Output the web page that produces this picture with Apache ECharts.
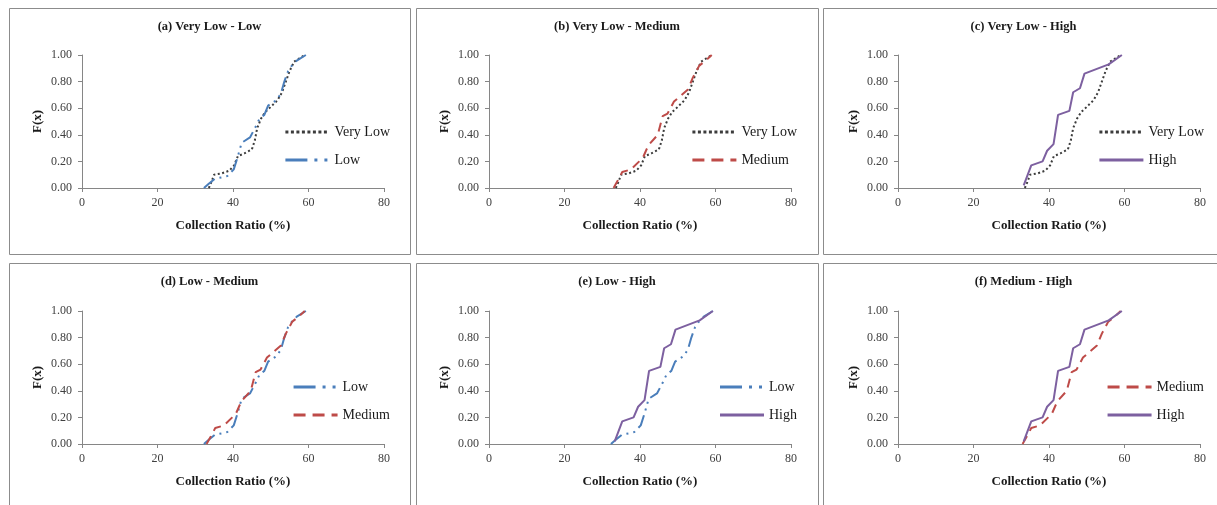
<!DOCTYPE html>
<html>
<head>
<meta charset="utf-8">
<script src="https://cdn.jsdelivr.net/npm/echarts@6/dist/echarts.min.js"></script>
<style>
  html, body { margin: 0; background: #fff; }
  #chart { width: 1217px; height: 505px; }
</style>
</head>
<body>
<div id="chart"></div>
<script>
const veryLow = [[33.6, 0.0], [34.2, 0.04], [35.0, 0.10], [37.0, 0.11], [39.0, 0.13], [40.3, 0.17], [41.3, 0.24],
  [43.0, 0.26], [45.0, 0.29], [45.8, 0.36], [46.4, 0.45], [47.4, 0.52], [48.5, 0.57], [50.0, 0.61], [51.8, 0.66],
  [53.0, 0.72], [54.0, 0.80], [55.0, 0.88], [56.2, 0.95], [59.0, 1.0]]
const low = [[32.3, 0.0], [33.5, 0.03], [35.2, 0.07], [37.0, 0.08], [38.5, 0.09], [40.2, 0.14], [41.2, 0.23],
  [42.3, 0.34], [44.5, 0.38], [46.0, 0.46], [47.0, 0.52], [48.3, 0.55], [49.3, 0.62], [51.5, 0.66], [52.7, 0.71],
  [53.6, 0.80], [54.6, 0.88], [55.6, 0.92], [57.0, 0.96], [59.3, 1.0]]
const medium = [[33.0, 0.0], [34.0, 0.05], [35.3, 0.12], [37.6, 0.14], [39.8, 0.20], [40.8, 0.23], [42.2, 0.32],
  [44.7, 0.40], [46.0, 0.54], [47.3, 0.56], [49.0, 0.65], [52.7, 0.74], [54.0, 0.83], [55.7, 0.92], [57.5, 0.96],
  [59.0, 1.0]]
const high = [[33.3, 0.02], [35.3, 0.17], [38.3, 0.20], [39.5, 0.28], [41.2, 0.33], [42.4, 0.55], [45.4, 0.58],
  [46.4, 0.72], [48.2, 0.75], [49.4, 0.86], [55.8, 0.93], [59.3, 1.0]]

const panelTitles = ['(a) Very Low - Low', '(b) Very Low - Medium', '(c) Very Low - High',
  '(d) Low - Medium', '(e) Low - High', '(f) Medium - High']
const panelPairs = [['Very Low', 'Low'], ['Very Low', 'Medium'], ['Very Low', 'High'],
  ['Low', 'Medium'], ['Low', 'High'], ['Medium', 'High']]
const xTicks = [0, 20, 40, 60, 80]
const yTicks = [0, 0.2, 0.4, 0.6, 0.8, 1.0]

const seriesData = { 'Very Low': veryLow, 'Low': low, 'Medium': medium, 'High': high }
const lineColor = { 'Very Low': '#3c3c3c', 'Low': '#4a7ebb', 'Medium': '#be4b48', 'High': '#7d60a0' }
const lineDash = { 'Very Low': [2, 2.5], 'Low': [14, 5, 2, 5, 2, 5], 'Medium': [9, 6], 'High': 'solid' }
const legendDash = { 'Very Low': [3, 2.5], 'Low': [22, 7, 3, 7, 3, 7], 'Medium': [12, 7], 'High': 'solid' }

// panel boxes and plot areas
const colLeft = [9, 416, 823]
const colRight = [410, 818, 1226]
const rowTop = [8, 263]
const rowBottom = [254, 512]
const plotLeft = [82, 489, 898]
const plotTop = [55, 311]
const plotW = 302
const plotH = 133

const serif = 'Liberation Serif'
const chart = echarts.init(document.getElementById('chart'))

let grid = [], xAxis = [], yAxis = [], series = [], legend = [], graphic = []
panelTitles.forEach((title, i) => {
  const c = i % 3
  const r = Math.floor(i / 3)
  graphic.push({
    type: 'rect',
    shape: { x: colLeft[c] + 0.5, y: rowTop[r] + 0.5, width: colRight[c] - colLeft[c], height: rowBottom[r] - rowTop[r] },
    style: { fill: 'none', stroke: '#8c8c8c', lineWidth: 1 },
    silent: true
  })
  graphic.push({
    type: 'text',
    x: (colLeft[c] + Math.min(colRight[c], 1224)) / 2,
    y: rowTop[r] + 19,
    style: { text: title, fontFamily: serif, fontWeight: 'bold', fontSize: 12.5, fill: '#1a1a1a', textAlign: 'center', textVerticalAlign: 'middle' }
  })
  grid.push({ left: plotLeft[c], top: plotTop[r], width: plotW, height: plotH })
  xAxis.push({
    type: 'value',
    gridIndex: i,
    min: xTicks[0],
    max: xTicks[xTicks.length - 1],
    interval: 20,
    name: 'Collection Ratio (%)',
    nameLocation: 'middle',
    nameGap: 31,
    nameTextStyle: { fontFamily: serif, fontWeight: 'bold', fontSize: 13, color: '#1a1a1a' },
    axisLine: { lineStyle: { color: '#868686', width: 1 } },
    axisTick: { show: true, length: 4, lineStyle: { color: '#868686' } },
    splitLine: { show: false },
    axisLabel: { margin: 9, fontFamily: serif, fontSize: 12, color: '#404040' }
  })
  yAxis.push({
    type: 'value',
    gridIndex: i,
    min: yTicks[0],
    max: yTicks[yTicks.length - 1],
    interval: 0.2,
    name: 'F(x)',
    nameLocation: 'middle',
    nameGap: 38,
    nameTextStyle: { fontFamily: serif, fontWeight: 'bold', fontSize: 13, color: '#1a1a1a' },
    axisLine: { show: true, lineStyle: { color: '#868686', width: 1 } },
    axisTick: { show: true, length: 4, lineStyle: { color: '#868686' } },
    splitLine: { show: false },
    axisLabel: { margin: 10, fontFamily: serif, fontSize: 12, color: '#404040', formatter: v => v.toFixed(2) }
  })
  panelPairs[i].forEach(name => {
    series.push({
      name: name,
      type: 'line',
      xAxisIndex: i,
      yAxisIndex: i,
      symbol: 'none',
      showSymbol: false,
      smooth: false,
      lineStyle: { color: lineColor[name], width: 2, type: lineDash[name] },
      itemStyle: { color: lineColor[name] },
      data: seriesData[name]
    })
  })
  legend.push({
    orient: 'vertical',
    right: 1217 - (colLeft[c] + 381),
    top: rowTop[r] + 117,
    padding: 0,
    itemWidth: 44,
    itemHeight: 14,
    itemGap: 14,
    selectedMode: false,
    textStyle: { fontFamily: serif, fontSize: 14, color: '#1a1a1a' },
    data: panelPairs[i].map(name => ({
      name: name,
      itemStyle: { opacity: 0 },
      lineStyle: { width: 3, type: legendDash[name], color: lineColor[name], opacity: 1 }
    }))
  })
})

chart.setOption({
  animation: false,
  backgroundColor: '#fff',
  grid: grid,
  xAxis: xAxis,
  yAxis: yAxis,
  legend: legend,
  series: series,
  graphic: graphic
})
</script>
</body>
</html>
